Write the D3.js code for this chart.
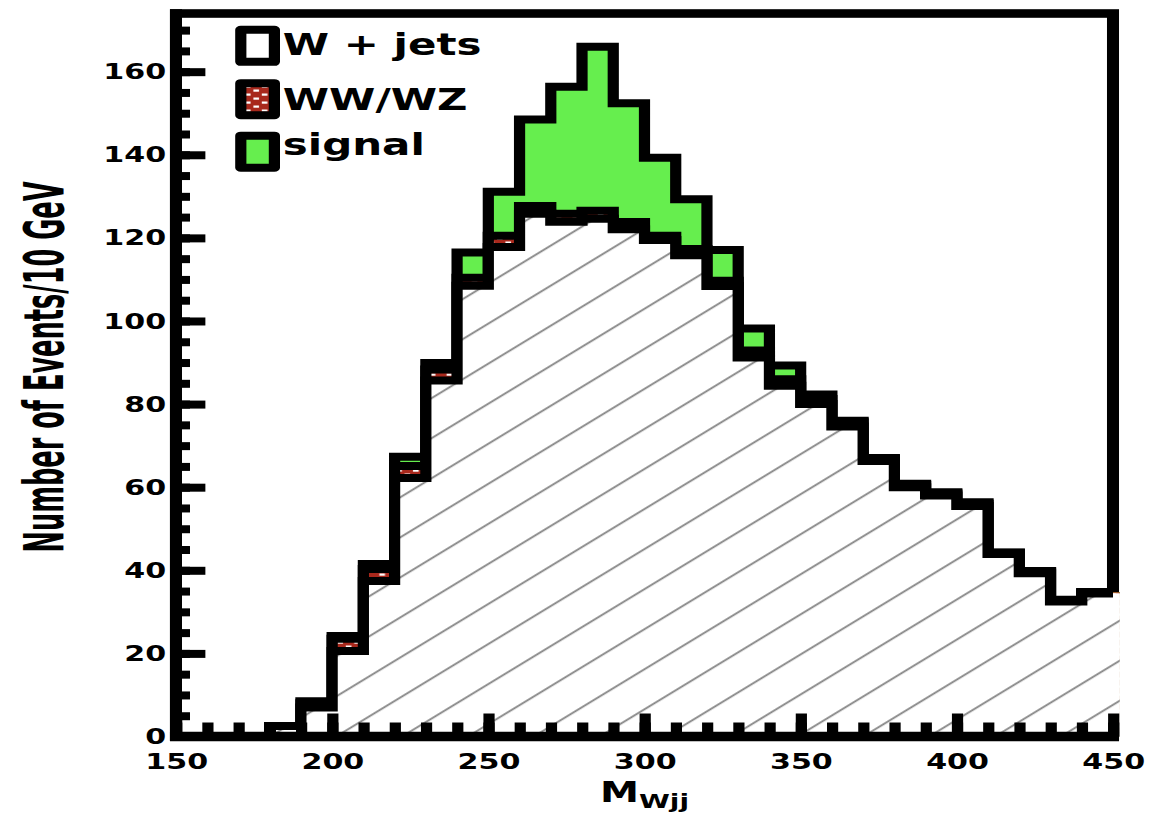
<!DOCTYPE html>
<html>
<head>
<meta charset="utf-8">
<script src="https://cdn.jsdelivr.net/npm/d3@7"></script>
<style>
  html, body { margin: 0; padding: 0; background: #fff; overflow: hidden; }
</style>
</head>
<body>
<div id="chart"></div>
<script>
// Histogram bins (lower edges, GeV) and the upper edge of the last bin
const binLow = [150, 160, 170, 180, 190, 200, 210, 220, 230, 240,
                250, 260, 270, 280, 290, 300, 310, 320, 330, 340,
                350, 360, 370, 380, 390, 400, 410, 420, 430, 440];
const binEnd = 450;

// Events per 10 GeV for each sample (stacked: W+jets, then WW/WZ, then signal)
const wjets  = [0, 0, 0, 2.5, 7, 20.6, 37.4, 62.2, 85.7, 108.5,
                117.8, 125.8, 123.9, 124.6, 122.1, 119.5, 115.8, 108.4, 91.2, 84.4,
                80, 74.6, 66.3, 60, 58, 55.5, 43.9, 39.3, 32.5, 34.4];
const wwwz   = [0, 0, 0, 0, 1, 2.9, 2.9, 2.9, 2.6, 1.9,
                2.7, 1.9, 1.9, 1.9, 1.7, 1, 1.5, 1.3, 1.7, 1.6,
                1.2, 1, 0.5, 0.5, 0.5, 0.5, 0.3, 0.4, 0.3, 0.3];
const signal = [0, 0, 0, 0, 0.5, 0.7, 1.2, 2.2, 1.6, 6.1,
                10.6, 20.8, 30.6, 39.5, 28.6, 18.8, 12, 7.4, 5.3, 3.3,
                1.1, 0.4, 0.2, 0.3, 0.3, 0.4, 0.1, 0.1, 0.1, 0.1];

// Axis ticks and labels
const xTicks = [150, 200, 250, 300, 350, 400, 450];
const yTicks = [0, 20, 40, 60, 80, 100, 120, 140, 160];
const legendLabels = ["W + jets", "WW/WZ", "signal"];
const yTitle = "Number of Events/10 GeV";
const xTitleMain = "M";
const xTitleSub = "Wjj";

// Canvas: drawn in a narrower user space, stretched horizontally to the window
const W = 1151, H = 815, SX = 1.4;
const VW = W / SX;
const FONT = "'DejaVu Sans', 'Liberation Sans', sans-serif";
const GREEN = "#66ee4e", RED = "#a8281c";
const LW = 8;      // histogram / tick line width
const FW = 8.6;    // frame line width

const svg = d3.select("#chart").append("svg")
  .attr("width", W).attr("height", H)
  .attr("viewBox", `0 0 ${VW} ${H}`)
  .attr("preserveAspectRatio", "none");

svg.append("rect").attr("width", VW).attr("height", H).attr("fill", "#fff");

const x = d3.scaleLinear().domain([150, 450]).range([125.7, 795]);
const y = d3.scaleLinear().domain([0, 174]).range([736.5, 13.5]);

// Fill patterns
const defs = svg.append("defs");
const hatch = defs.append("pattern")
  .attr("id", "hatch").attr("patternUnits", "userSpaceOnUse")
  .attr("width", 40).attr("height", 30.5)
  .attr("patternTransform", "rotate(-40.4)");
hatch.append("rect").attr("width", 40).attr("height", 30.5).attr("fill", "#fff");
hatch.append("line").attr("x1", 0).attr("x2", 40).attr("y1", 15).attr("y2", 15)
  .attr("stroke", "#858585").attr("stroke-width", 1.7);

const dashes = defs.append("pattern")
  .attr("id", "dashes").attr("patternUnits", "userSpaceOnUse")
  .attr("width", 12).attr("height", 16);
dashes.append("rect").attr("width", 12).attr("height", 16).attr("fill", RED);
[[1, 1.5], [7, 5.5], [1, 9.5], [7, 13.5]].forEach(([dx, dy]) =>
  dashes.append("rect").attr("x", dx).attr("y", dy).attr("width", 4).attr("height", 2.2).attr("fill", "#fff"));

// Frame (top and right edges; left/bottom axes are redrawn on top later)
svg.append("rect")
  .attr("x", x(150)).attr("y", y(174))
  .attr("width", x(450) - x(150)).attr("height", y(0) - y(174))
  .attr("fill", "none").attr("stroke", "#000").attr("stroke-width", FW);

// Stacked layers: total, background sum, W+jets
const layerValues = [
  binLow.map((b, i) => wjets[i] + wwwz[i] + signal[i]),
  binLow.map((b, i) => wjets[i] + wwwz[i]),
  binLow.map((b, i) => wjets[i])
];
const layerFills = [GREEN, "url(#dashes)", "url(#hatch)"];

const toPoints = vals => {
  const pts = binLow.map((b, i) => ({ x: b, v: vals[i] }));
  pts.push({ x: binEnd, v: vals[vals.length - 1], end: true });
  return pts;
};

const area = d3.area()
  .x(d => x(d.x) + (d.end ? FW / 2 + 0.5 : 0))
  .y0(y(0)).y1(d => y(d.v))
  .curve(d3.curveStepAfter);
const line = d3.line()
  .x(d => x(d.x)).y(d => y(d.v))
  .curve(d3.curveStepAfter);

const hist = svg.append("g");
layerValues.forEach((vals, k) => {
  const pts = toPoints(vals);
  if (k === 2) {
    hist.append("path").attr("d", area(pts)).attr("fill", "#fff");
  }
  hist.append("path").attr("d", area(pts)).attr("fill", layerFills[k]);
  hist.append("path").attr("d", line(pts))
    .attr("fill", "none").attr("stroke", "#000")
    .attr("stroke-width", LW).attr("stroke-linejoin", "miter");
});

// Axis lines (left and bottom)
svg.append("line")
  .attr("x1", x(150)).attr("x2", x(150))
  .attr("y1", y(0) + FW / 2).attr("y2", y(174) - FW / 2)
  .attr("stroke", "#000").attr("stroke-width", FW);
svg.append("line")
  .attr("x1", x(150) - FW / 2).attr("x2", x(450) + FW / 2)
  .attr("y1", y(0)).attr("y2", y(0))
  .attr("stroke", "#000").attr("stroke-width", FW + 1);

const styleAxis = g => {
  g.select(".domain").remove();
  g.attr("font-family", FONT).attr("font-size", 21.5).attr("font-weight", "bold");
  g.selectAll(".tick line").attr("stroke", "#000").attr("stroke-width", LW);
  g.selectAll(".tick text").attr("fill", "#000");
};

// Y axis: minor ticks every 5, major every 20, ticks pointing into the plot
svg.append("g").attr("transform", `translate(${x(150)},0)`)
  .call(d3.axisLeft(y).tickValues(d3.range(0, 171, 5)).tickSizeInner(-10).tickSizeOuter(0).tickFormat(""))
  .call(styleAxis);
svg.append("g").attr("transform", `translate(${x(150)},0)`)
  .call(d3.axisLeft(y).tickValues(yTicks).tickSizeInner(-21).tickSizeOuter(0).tickPadding(7).tickFormat(d3.format("d")))
  .call(styleAxis)
  .call(g => g.selectAll(".tick text").attr("dy", "0.33em"));

// X axis: minor ticks every 10, major every 50
svg.append("g").attr("transform", `translate(0,${y(0)})`)
  .call(d3.axisBottom(x).tickValues(d3.range(150, 451, 10)).tickSizeInner(-14).tickSizeOuter(0).tickFormat(""))
  .call(styleAxis);
svg.append("g").attr("transform", `translate(0,${y(0)})`)
  .call(d3.axisBottom(x).tickValues(xTicks).tickSizeInner(-23).tickSizeOuter(0).tickPadding(17).tickFormat(d3.format("d")))
  .call(styleAxis);

// Y axis title: condensed bold, fitted to a fixed length along the axis
const yt = svg.append("text")
  .attr("text-anchor", "middle")
  .attr("font-family", FONT).attr("font-weight", "bold").attr("font-size", 40)
  .attr("fill", "#000")
  .text(yTitle);
const natural = yt.node().getComputedTextLength();
const targetLen = 371;
yt.attr("font-size", 40 * targetLen / natural)
  .attr("transform", `translate(45, 367) rotate(-90) scale(1, ${natural / targetLen})`);

// X axis title
const xt = svg.append("text")
  .attr("x", (x(150) + x(450)) / 2).attr("y", 802)
  .attr("text-anchor", "middle")
  .attr("font-family", FONT).attr("font-weight", "bold").attr("fill", "#000");
xt.append("tspan").attr("font-size", 28).text(xTitleMain);
xt.append("tspan").attr("font-size", 20).attr("dy", 6).text(xTitleSub);

// Legend
const legendFills = ["#fff", "url(#dashes)", GREEN];
const legendCY = [45.8, 99.2, 151.7];
const legendBase = [55, 110, 155];
const leg = svg.append("g");
legendLabels.forEach((lab, i) => {
  leg.append("rect")
    .attr("x", 172).attr("y", legendCY[i] - 16)
    .attr("width", 24).attr("height", 32)
    .attr("fill", legendFills[i]).attr("stroke", "#000")
    .attr("stroke-width", LW).attr("stroke-linejoin", "round");
  leg.append("text")
    .attr("x", 202).attr("y", legendBase[i])
    .attr("font-family", FONT).attr("font-weight", "bold").attr("font-size", 30)
    .attr("fill", "#000")
    .text(lab);
});
</script>
</body>
</html>
